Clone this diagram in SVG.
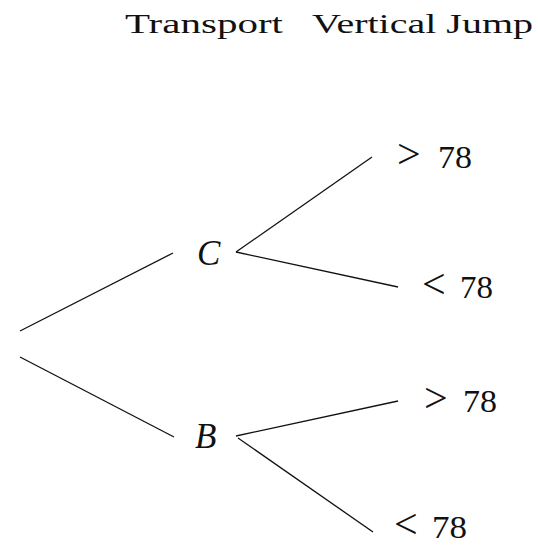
<svg xmlns="http://www.w3.org/2000/svg" width="538" height="545" viewBox="0 0 538 545">
<style>
.hdr{font-family:"Liberation Serif","Times New Roman",serif;font-size:27px;fill:#111}
.var{font-family:"Liberation Serif","Times New Roman",serif;font-style:italic;font-size:35px;fill:#111}
.num{font-family:"Liberation Serif","Times New Roman",serif;font-size:31px;fill:#111}
.op{font-family:"Liberation Serif","Times New Roman",serif;font-size:42px;fill:#111}
.edge{stroke:#111;stroke-width:1.3;fill:none}
</style>
<rect width="538" height="545" fill="#fff"/>
<g id="headers">
<text class="hdr" x="125" y="33" textLength="158" lengthAdjust="spacingAndGlyphs">Transport</text>
<text class="hdr" x="312" y="33" textLength="221" lengthAdjust="spacingAndGlyphs">Vertical Jump</text>
</g>
<g id="connectors">
<line class="edge" x1="20" y1="331" x2="173" y2="253"/>
<line class="edge" x1="20" y1="357" x2="174" y2="437"/>
<line class="edge" x1="236" y1="252" x2="372" y2="157"/>
<line class="edge" x1="236" y1="252" x2="398" y2="287"/>
<line class="edge" x1="236" y1="436" x2="398" y2="401"/>
<line class="edge" x1="238" y1="438" x2="373" y2="532"/>
</g>
<g id="node-C"><text class="var" x="197" y="265">C</text></g>
<g id="node-B"><text class="var" x="195" y="448">B</text></g>
<g id="leaf-C-gt"><text class="num" y="168"><tspan class="op" x="397">&gt; </tspan><tspan x="438" textLength="34" lengthAdjust="spacingAndGlyphs">78</tspan></text></g>
<g id="leaf-C-lt"><text class="num" y="298"><tspan class="op" x="422">&lt; </tspan><tspan x="460" textLength="33" lengthAdjust="spacingAndGlyphs">78</tspan></text></g>
<g id="leaf-B-gt"><text class="num" y="412"><tspan class="op" x="424">&gt; </tspan><tspan x="463" textLength="34" lengthAdjust="spacingAndGlyphs">78</tspan></text></g>
<g id="leaf-B-lt"><text class="num" y="538"><tspan class="op" x="394">&lt; </tspan><tspan x="432" textLength="35" lengthAdjust="spacingAndGlyphs">78</tspan></text></g>
</svg>
